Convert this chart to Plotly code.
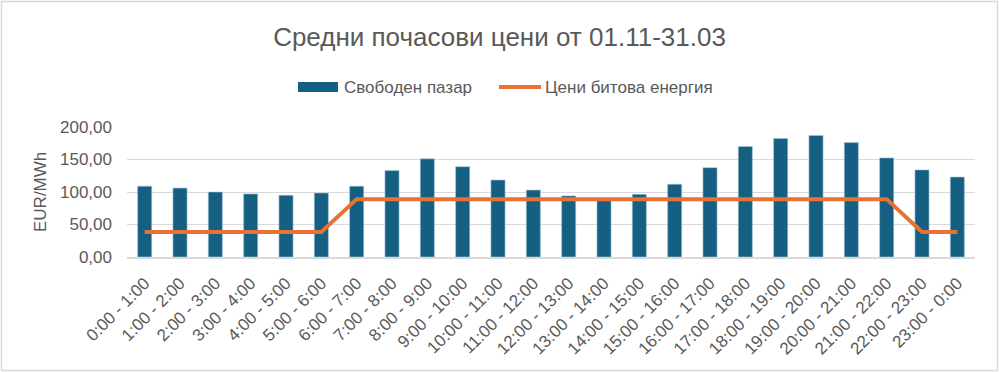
import plotly.graph_objects as go

categories = ["0:00 - 1:00", "1:00 - 2:00", "2:00 - 3:00", "3:00 - 4:00", "4:00 - 5:00",
              "5:00 - 6:00", "6:00 - 7:00", "7:00 - 8:00", "8:00 - 9:00", "9:00 - 10:00",
              "10:00 - 11:00", "11:00 - 12:00", "12:00 - 13:00", "13:00 - 14:00",
              "14:00 - 15:00", "15:00 - 16:00", "16:00 - 17:00", "17:00 - 18:00",
              "18:00 - 19:00", "19:00 - 20:00", "20:00 - 21:00", "21:00 - 22:00",
              "22:00 - 23:00", "23:00 - 0:00"]

free_market = [109, 106, 100, 97, 95, 98.5, 109, 133, 151, 139, 118.5, 103,
               94, 88, 96.5, 112, 137.5, 170, 182.5, 187, 176, 152.5, 134, 123]

household = [38.5, 38.5, 38.5, 38.5, 38.5, 38.5, 89, 89, 89, 89, 89, 89,
             89, 89, 89, 89, 89, 89, 89, 89, 89, 89, 38.5, 38.5]

y_ticks = [0, 50, 100, 150, 200]

series_names = ["Свободен пазар", "Цени битова енергия"]
BLUE = "#156082"
ORANGE = "#E97132"
GRAY = "#595959"
FONT = "Liberation Sans"
W, H = 999, 372
ML, MR, MT, MB = 127, 24, 127, 115
pw = W - ML - MR
ph = H - MT - MB


def px(x):
    return (x - ML) / pw


def py(y):
    return (H - MB - y) / ph


fig = go.Figure()
fig.add_trace(go.Bar(
    x=categories, y=free_market, name=series_names[0], showlegend=False,
    marker=dict(color=BLUE, line=dict(color="#a9c7d8", width=0.6)),
))
fig.add_trace(go.Scatter(
    x=categories, y=household, name=series_names[1], mode="lines", showlegend=False,
    line=dict(color=ORANGE, width=4),
))

# chart frame
fig.add_shape(type="rect", xref="paper", yref="paper",
              x0=px(1.5), x1=px(W - 1.5), y0=py(H - 1.5), y1=py(1.5),
              line=dict(color="#d9d9d9", width=1.5), layer="below")

# legend (Excel style: wide swatches)
fig.add_shape(type="rect", xref="paper", yref="paper",
              x0=px(298), x1=px(338), y0=py(92), y1=py(82),
              fillcolor=BLUE, line=dict(width=0))
fig.add_annotation(xref="paper", yref="paper", x=px(342), y=py(87),
                   xanchor="left", yanchor="middle", showarrow=False,
                   text=series_names[0], font=dict(size=17, color=GRAY, family=FONT))
fig.add_shape(type="line", xref="paper", yref="paper",
              x0=px(499), x1=px(541), y0=py(87), y1=py(87),
              line=dict(color=ORANGE, width=4))
fig.add_annotation(xref="paper", yref="paper", x=px(543), y=py(87),
                   xanchor="left", yanchor="middle", showarrow=False,
                   text=series_names[1], font=dict(size=17, color=GRAY, family=FONT))

# y-axis title
fig.add_annotation(xref="paper", yref="paper", x=px(40), y=py(192),
                   xanchor="center", yanchor="middle", showarrow=False, textangle=-90,
                   text="EUR/MWh", font=dict(size=17, color=GRAY, family=FONT))

fig.update_layout(
    width=W, height=H,
    margin=dict(l=ML, r=MR, t=MT, b=MB, autoexpand=False),
    paper_bgcolor="white", plot_bgcolor="white",
    separators=", ",
    font=dict(family=FONT, color=GRAY, size=14),
    title=dict(text="Средни почасови цени от 01.11-31.03", x=0.5, xref="container",
               xanchor="center", y=1 - 37 / H, yanchor="middle",
               font=dict(size=26, color=GRAY, family=FONT)),
    bargap=0.6,
    showlegend=False,
    xaxis=dict(tickangle=-45, showgrid=False, showline=True, linecolor="#d9d9d9",
               linewidth=1.5, ticks="", automargin=False, ticklabelstandoff=8,
               tickfont=dict(size=17, color=GRAY)),
    yaxis=dict(range=[0, 200], tickvals=y_ticks, tickformat=".2f", automargin=False,
               showgrid=True, gridcolor="#d9d9d9", gridwidth=1, zeroline=False,
               tickfont=dict(size=17, color=GRAY), ticklabelstandoff=14),
)

fig.write_html("out.html", config={"displayModeBar": False},
               post_script="document.body.style.margin='0';document.body.style.padding='0';")
